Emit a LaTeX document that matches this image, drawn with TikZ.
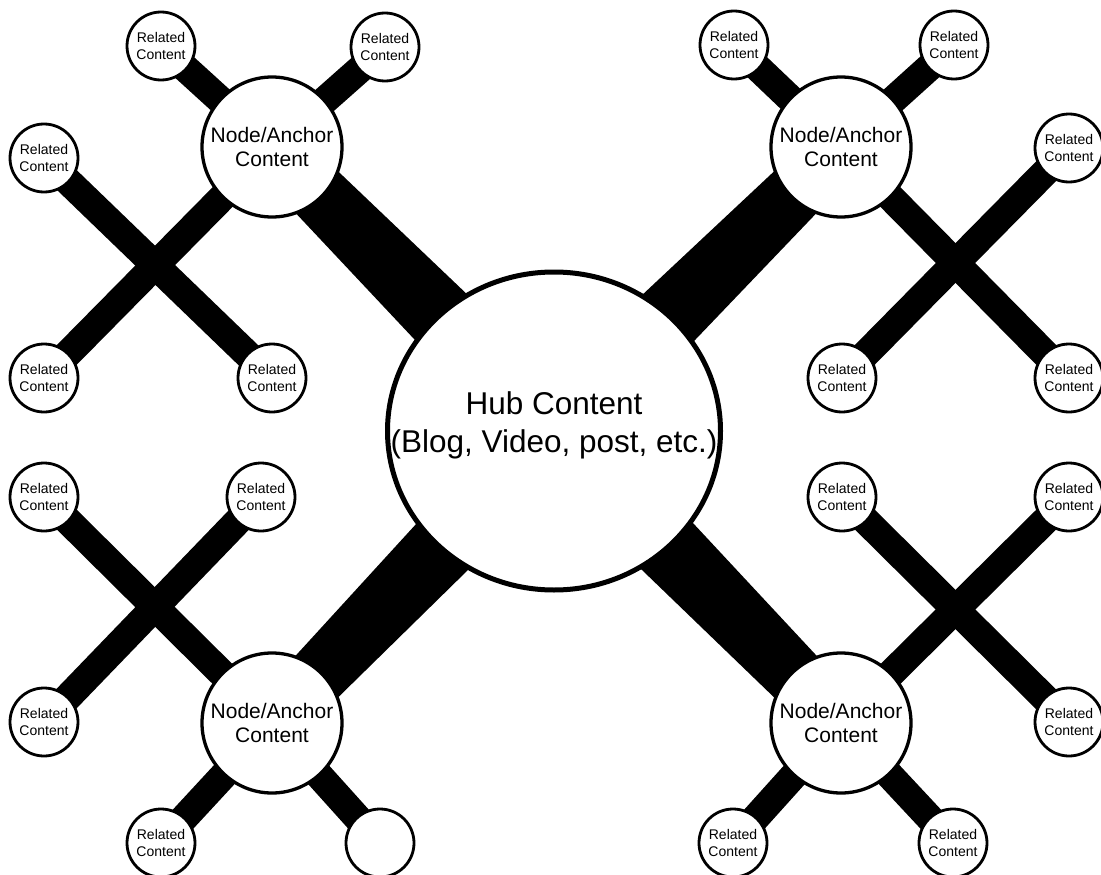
\documentclass[tikz,border=0pt]{standalone}
\usepackage{fontspec}
\setmainfont{Liberation Sans}
\usetikzlibrary{calc,shapes.geometric,backgrounds}

\begin{document}
\begin{tikzpicture}[x=1pt,y=-1pt,
  hub/.style={ellipse,draw,line width=5pt,fill=white,minimum width=333pt,minimum height=318pt,inner sep=0pt},
  hubtext/.style={align=center,font=\fontsize{31.5}{38}\selectfont,yshift=6pt},
  anchorc/.style={circle,draw,line width=3.3pt,fill=white,minimum size=140pt,inner sep=0pt,align=center,font=\fontsize{21}{24}\selectfont},
  rel/.style={circle,draw,line width=2.8pt,fill=white,minimum size=68pt,inner sep=0pt,align=center,font=\fontsize{14}{16.5}\selectfont},
  link/.style={line width=28pt}]
\useasboundingbox (0,0) rectangle (1101,875);

\node[hub,label={[hubtext]center:{Hub Content\\(Blog, Video, post, etc.)}}] (hub) at (554,431) {};

\foreach \n/\x/\y in {a1/272/147, a2/841/147, a3/272/723, a4/841/723}
  \node[anchorc] (\n) at (\x,\y) {Node/Anchor\\Content};

\foreach \n/\x/\y in {r1a/161/46, r1b/385/47, r1c/44/158, r1d/44/378, r1e/272/378,
                      r2a/734/45, r2b/954/45, r2c/1069/148, r2d/842/378, r2e/1069/378,
                      r3a/44/497, r3b/261/497, r3c/44/722, r3d/161/843,
                      r4a/842/497, r4b/1069/497, r4c/1069/722, r4d/733/843, r4e/953/843}
  \node[rel] (\n) at (\x,\y) {Related\\Content};
\node[rel] (r3e) at (380,843) {};

\begin{scope}[on background layer]
\foreach \a in {a1,a2,a3,a4}
  \fill ($(\a.center)!28pt!90:(hub.center)$) -- ($(hub.center)!39pt!-90:(\a.center)$)
     -- ($(hub.center)!39pt!90:(\a.center)$) -- ($(\a.center)!28pt!-90:(hub.center)$) -- cycle;
\foreach \s/\t in {a1/r1a, a1/r1b, a1/r1d, r1c/r1e,
                   a2/r2a, a2/r2b, a2/r2e, r2c/r2d,
                   a3/r3a, a3/r3d, a3/r3e, r3b/r3c,
                   a4/r4b, a4/r4d, a4/r4e, r4a/r4c}
  \draw[link] (\s.center) -- (\t.center);
\end{scope}
\end{tikzpicture}
\end{document}
